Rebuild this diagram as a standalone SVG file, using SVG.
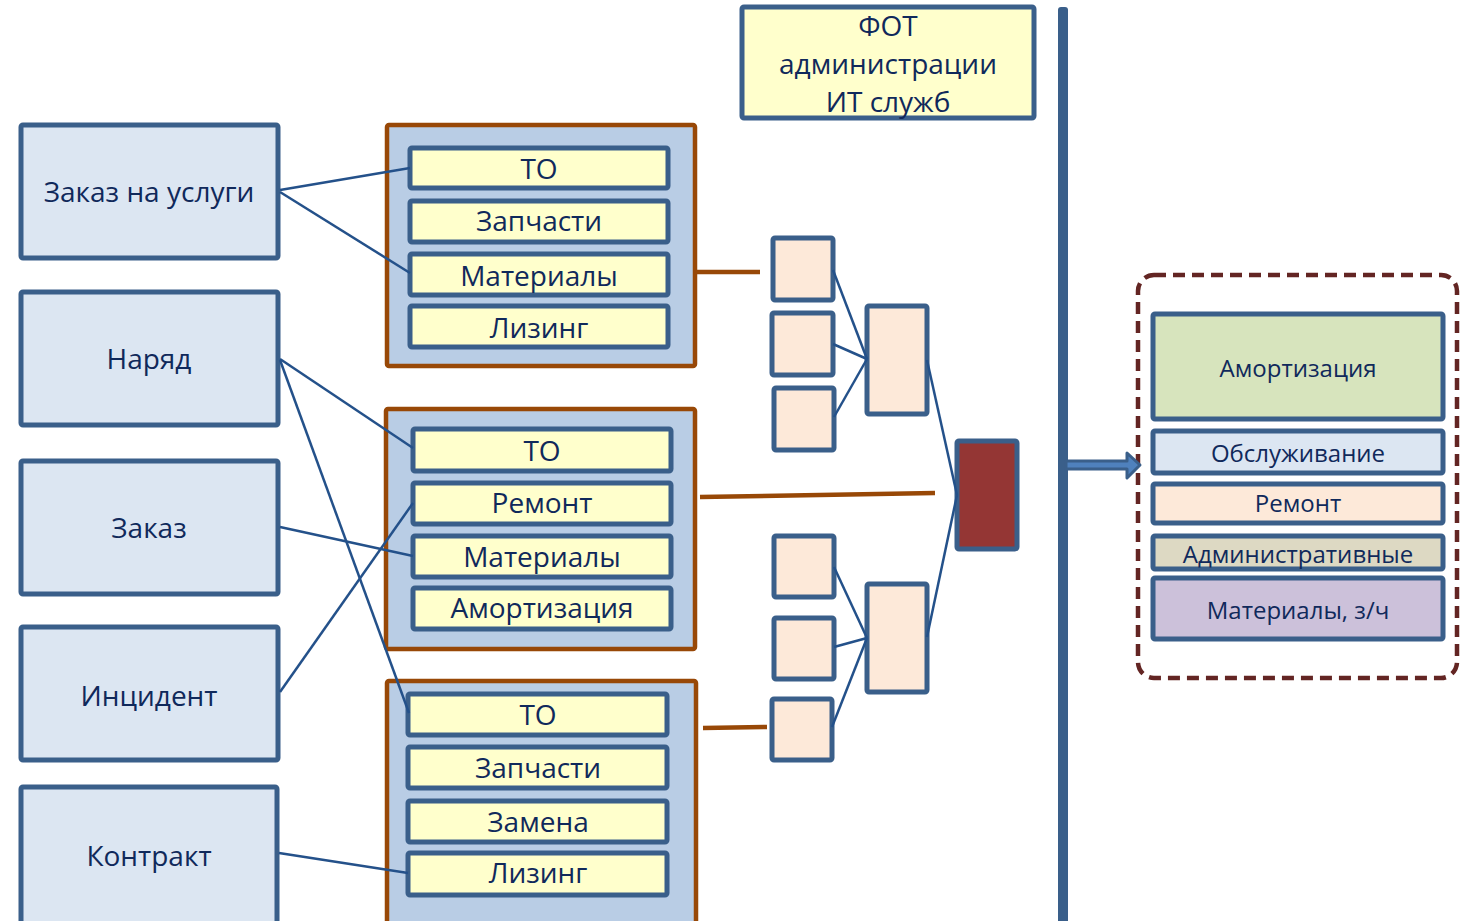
<svg xmlns="http://www.w3.org/2000/svg" width="1468" height="921" viewBox="0 0 1468 921">
<style>
  text { font-family: "Open Sans", "Noto Sans", sans-serif; fill: #10295B; text-anchor: middle; }
  .src rect { fill: #DCE6F2; stroke: #3A5F8A; stroke-width: 5; }
  .src text { font-size: 28px; }
  .grp > rect { fill: #B9CDE5; stroke: #984807; stroke-width: 4.5; }
  .item rect { fill: #FFFFCC; stroke: #3A5F8A; stroke-width: 5; }
  .item text { font-size: 28px; }
  .sq { fill: #FDE9D9; stroke: #3A5F8A; stroke-width: 5; }
  .blue { stroke: #24518A; stroke-width: 2.5; fill: none; }
  .brown { stroke: #984807; stroke-width: 4.5; fill: none; }
  .res rect { stroke: #3A5F8A; stroke-width: 5; }
  .res text { font-size: 24px; }
</style>
<rect width="1468" height="921" fill="#FFFFFF"/>

<!-- source nodes -->
<g id="n-zakaz-uslugi" class="src"><rect x="21" y="125" width="257" height="133" rx="2"/><text x="149" y="202">Заказ на услуги</text></g>
<g id="n-naryad" class="src"><rect x="21" y="292" width="257" height="133" rx="2"/><text x="149" y="369">Наряд</text></g>
<g id="n-zakaz" class="src"><rect x="21" y="461" width="257" height="133" rx="2"/><text x="149" y="538">Заказ</text></g>
<g id="n-incident" class="src"><rect x="21" y="627" width="257" height="133" rx="2"/><text x="149" y="706">Инцидент</text></g>
<g id="n-contract" class="src"><rect x="21" y="787" width="256" height="140" rx="2"/><text x="149" y="866">Контракт</text></g>

<!-- group 1 -->
<g id="g1" class="grp">
  <rect x="387" y="125" width="308" height="241" rx="2"/>
  <g id="g1-to" class="item"><rect x="410" y="148" width="258" height="40" rx="2"/><text x="539" y="179">ТО</text></g>
  <g id="g1-zap" class="item"><rect x="410" y="201" width="258" height="41" rx="2"/><text x="539" y="231">Запчасти</text></g>
  <g id="g1-mat" class="item"><rect x="410" y="254" width="258" height="41" rx="2"/><text x="539" y="286">Материалы</text></g>
  <g id="g1-liz" class="item"><rect x="410" y="306" width="258" height="41" rx="2"/><text x="539" y="338">Лизинг</text></g>
</g>

<!-- group 2 -->
<g id="g2" class="grp">
  <rect x="386" y="409" width="309" height="240" rx="2"/>
  <g id="g2-to" class="item"><rect x="413" y="429" width="258" height="42" rx="2"/><text x="542" y="461">ТО</text></g>
  <g id="g2-rem" class="item"><rect x="413" y="483" width="258" height="41" rx="2"/><text x="542" y="513">Ремонт</text></g>
  <g id="g2-mat" class="item"><rect x="413" y="536" width="258" height="41" rx="2"/><text x="542" y="567">Материалы</text></g>
  <g id="g2-am" class="item"><rect x="413" y="588" width="258" height="41" rx="2"/><text x="542" y="618">Амортизация</text></g>
</g>

<!-- group 3 -->
<g id="g3" class="grp">
  <rect x="387" y="681" width="309" height="250" rx="2"/>
  <g id="g3-to" class="item"><rect x="408" y="694" width="259" height="41" rx="2"/><text x="538" y="725">ТО</text></g>
  <g id="g3-zap" class="item"><rect x="408" y="747" width="259" height="41" rx="2"/><text x="538" y="778">Запчасти</text></g>
  <g id="g3-zam" class="item"><rect x="408" y="801" width="259" height="41" rx="2"/><text x="538" y="832">Замена</text></g>
  <g id="g3-liz" class="item"><rect x="408" y="853" width="259" height="42" rx="2"/><text x="538" y="883">Лизинг</text></g>
</g>

<!-- FOT -->
<g id="n-fot">
  <rect x="742" y="7" width="292" height="111" rx="2" fill="#FFFFCC" stroke="#3A5F8A" stroke-width="5"/>
  <text x="888" y="36" font-size="28">ФОТ</text>
  <text x="888" y="74" font-size="28">администрации</text>
  <text x="888" y="112" font-size="28">ИТ служб</text>
</g>

<!-- small squares -->
<g id="sq1"><rect class="sq" x="773" y="238" width="60" height="62" rx="2"/></g>
<g id="sq2"><rect class="sq" x="772" y="313" width="61" height="62" rx="2"/></g>
<g id="sq3"><rect class="sq" x="774" y="388" width="60" height="62" rx="2"/></g>
<g id="sq4"><rect class="sq" x="774" y="536" width="60" height="61" rx="2"/></g>
<g id="sq5"><rect class="sq" x="774" y="618" width="60" height="61" rx="2"/></g>
<g id="sq6"><rect class="sq" x="772" y="699" width="60" height="61" rx="2"/></g>
<g id="mid1"><rect class="sq" x="867" y="306" width="60" height="108" rx="2"/></g>
<g id="mid2"><rect class="sq" x="867" y="584" width="60" height="108" rx="2"/></g>
<g id="red"><rect x="957" y="441" width="60" height="108" rx="2" fill="#943634" stroke="#3A5F8A" stroke-width="5"/></g>

<!-- vertical bar -->
<g id="bar"><rect x="1058" y="7" width="10" height="920" rx="3" fill="#3A5F8A"/></g>

<!-- result -->
<g id="result">
  <rect x="1138" y="275" width="319" height="403" rx="16" fill="none" stroke="#632523" stroke-width="4.5" stroke-dasharray="12 7"/>
  <g id="r-am" class="res"><rect x="1153" y="314" width="290" height="105" rx="2" fill="#D7E4BD"/><text x="1298" y="377">Амортизация</text></g>
  <g id="r-obs" class="res"><rect x="1153" y="431" width="290" height="42" rx="2" fill="#DCE6F2"/><text x="1298" y="462">Обслуживание</text></g>
  <g id="r-rem" class="res"><rect x="1153" y="484" width="290" height="39" rx="2" fill="#FDE9D9"/><text x="1298" y="512">Ремонт</text></g>
  <g id="r-adm" class="res"><rect x="1153" y="536" width="290" height="33" rx="2" fill="#DDD9C3"/><text x="1298" y="563">Административные</text></g>
  <g id="r-mat" class="res"><rect x="1153" y="578" width="290" height="61" rx="2" fill="#CCC1DA"/><text x="1298" y="619">Материалы, з/ч</text></g>
</g>

<!-- connectors -->
<g id="connectors">
  <line class="blue" x1="280" y1="190" x2="410" y2="168"/>
  <line class="blue" x1="280" y1="192" x2="410" y2="273"/>
  <line class="blue" x1="280" y1="359" x2="413" y2="448"/>
  <line class="blue" x1="280" y1="360" x2="409" y2="713"/>
  <line class="blue" x1="280" y1="527" x2="413" y2="556"/>
  <line class="blue" x1="280" y1="692" x2="413" y2="503"/>
  <line class="blue" x1="279" y1="853" x2="408" y2="873"/>

  <line class="blue" x1="833" y1="270" x2="867" y2="359"/>
  <line class="blue" x1="833" y1="344" x2="867" y2="359"/>
  <line class="blue" x1="834" y1="417" x2="867" y2="359"/>
  <line class="blue" x1="834" y1="567" x2="867" y2="638"/>
  <line class="blue" x1="834" y1="647" x2="867" y2="638"/>
  <line class="blue" x1="832" y1="727" x2="867" y2="638"/>
  <line class="blue" x1="927" y1="360" x2="957" y2="495"/>
  <line class="blue" x1="927" y1="637" x2="957" y2="495"/>

  <line class="brown" x1="697" y1="272" x2="760" y2="272"/>
  <line class="brown" x1="700" y1="497" x2="935" y2="493"/>
  <line class="brown" x1="703" y1="728" x2="767" y2="727"/>

  <path d="M1066 461 L1127 461 L1127 453 L1140 465 L1127 478 L1127 469 L1066 469 Z" fill="#4F81BD" stroke="#3A5F8A" stroke-width="3" stroke-linejoin="round"/>
</g>
</svg>
